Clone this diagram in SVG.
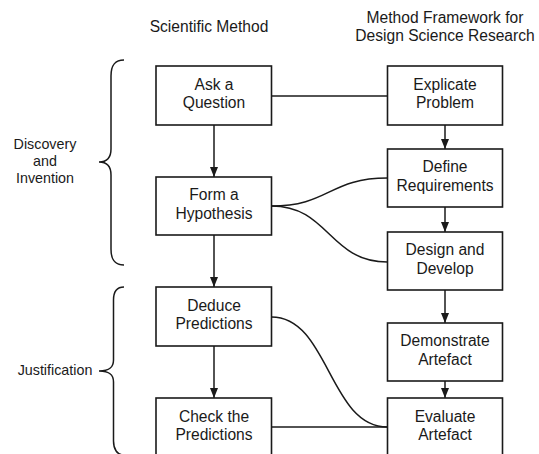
<svg xmlns="http://www.w3.org/2000/svg" width="539" height="454" viewBox="0 0 539 454">
<style>
  .box rect { fill: #fff; stroke: #1a1a1a; stroke-width: 1.6; }
  .box text, .lbl { font-family: "Liberation Sans", Arial, sans-serif; font-size: 15.6px; fill: #1a1a1a; text-anchor: middle; }
  .side { font-family: "Liberation Sans", Arial, sans-serif; font-size: 14.3px; fill: #1a1a1a; text-anchor: middle; }
  .conn path, .conn line { fill: none; stroke: #1a1a1a; stroke-width: 1.5; }
  .arrow { marker-end: url(#ah); }
  .brace { fill: none; stroke: #1a1a1a; stroke-width: 1.5; }
</style>
<defs>
  <marker id="ah" markerUnits="userSpaceOnUse" markerWidth="11" markerHeight="8" refX="10" refY="4" orient="auto">
    <path d="M0,0 L10,4 L0,8 z" fill="#1a1a1a"/>
  </marker>
</defs>
<rect width="539" height="454" fill="#fff"/>

<g id="titles">
  <text class="lbl" x="209" y="32">Scientific Method</text>
  <text class="lbl" x="445" y="23">Method Framework for</text>
  <text class="lbl" x="445" y="41">Design Science Research</text>
</g>

<g id="phases">
  <path class="brace" d="M124,60 C114,60 111,66 111,76 L111,149 C111,158 107,162 99,162 C107,162 111,166 111,175 L111,249 C111,259 114,265 124,265"/>
  <text class="side" x="45" y="148.5">Discovery</text>
  <text class="side" x="45" y="165.5">and</text>
  <text class="side" x="45" y="182.5">Invention</text>
  <path class="brace" d="M124,287 C117,287 113.5,292 113.5,300 L113.5,360 C113.5,367 110,371 99,371 C110,371 113.5,375 113.5,382 L113.5,441 C113.5,449 117,455 124,455"/>
  <text class="side" x="55" y="375">Justification</text>
</g>

<g class="conn" id="connectors">
  <line x1="271.5" y1="96" x2="387.5" y2="96"/>
  <line class="arrow" x1="214" y1="125" x2="214" y2="177"/>
  <line class="arrow" x1="445" y1="125" x2="445" y2="149"/>
  <line class="arrow" x1="445" y1="207" x2="445" y2="232"/>
  <line class="arrow" x1="214" y1="235" x2="214" y2="287"/>
  <line class="arrow" x1="445" y1="290" x2="445" y2="323"/>
  <line class="arrow" x1="445" y1="381" x2="445" y2="398"/>
  <line class="arrow" x1="214" y1="346" x2="214" y2="398"/>
  <path d="M271.5,206 C329,206 329,178 387.5,178"/>
  <path d="M271.5,206 C329,206 329,262 387.5,262"/>
  <path d="M271.5,317 C329,317 329,427 387.5,427"/>
  <line x1="271.5" y1="427" x2="387.5" y2="427"/>
</g>

<g class="box" id="ask">
  <rect x="156" y="66" width="115.5" height="59"/>
  <text x="214" y="89.5">Ask a</text><text x="214" y="108">Question</text>
</g>
<g class="box" id="form">
  <rect x="156" y="177" width="115.5" height="58"/>
  <text x="214" y="200">Form a</text><text x="214" y="218.5">Hypothesis</text>
</g>
<g class="box" id="deduce">
  <rect x="156" y="287" width="115.5" height="59"/>
  <text x="214" y="310.5">Deduce</text><text x="214" y="329">Predictions</text>
</g>
<g class="box" id="check">
  <rect x="156" y="398" width="115.5" height="59"/>
  <text x="214" y="421.5">Check the</text><text x="214" y="440">Predictions</text>
</g>
<g class="box" id="explicate">
  <rect x="387.5" y="66" width="115" height="59"/>
  <text x="445" y="89.5">Explicate</text><text x="445" y="108">Problem</text>
</g>
<g class="box" id="define">
  <rect x="387.5" y="149" width="115" height="58"/>
  <text x="445" y="172">Define</text><text x="445" y="190.5">Requirements</text>
</g>
<g class="box" id="design">
  <rect x="387.5" y="232" width="115" height="58"/>
  <text x="445" y="255">Design and</text><text x="445" y="273.5">Develop</text>
</g>
<g class="box" id="demonstrate">
  <rect x="387.5" y="323" width="115" height="58"/>
  <text x="445" y="346">Demonstrate</text><text x="445" y="364.5">Artefact</text>
</g>
<g class="box" id="evaluate">
  <rect x="387.5" y="398" width="115" height="59"/>
  <text x="445" y="421.5">Evaluate</text><text x="445" y="440">Artefact</text>
</g>
</svg>
